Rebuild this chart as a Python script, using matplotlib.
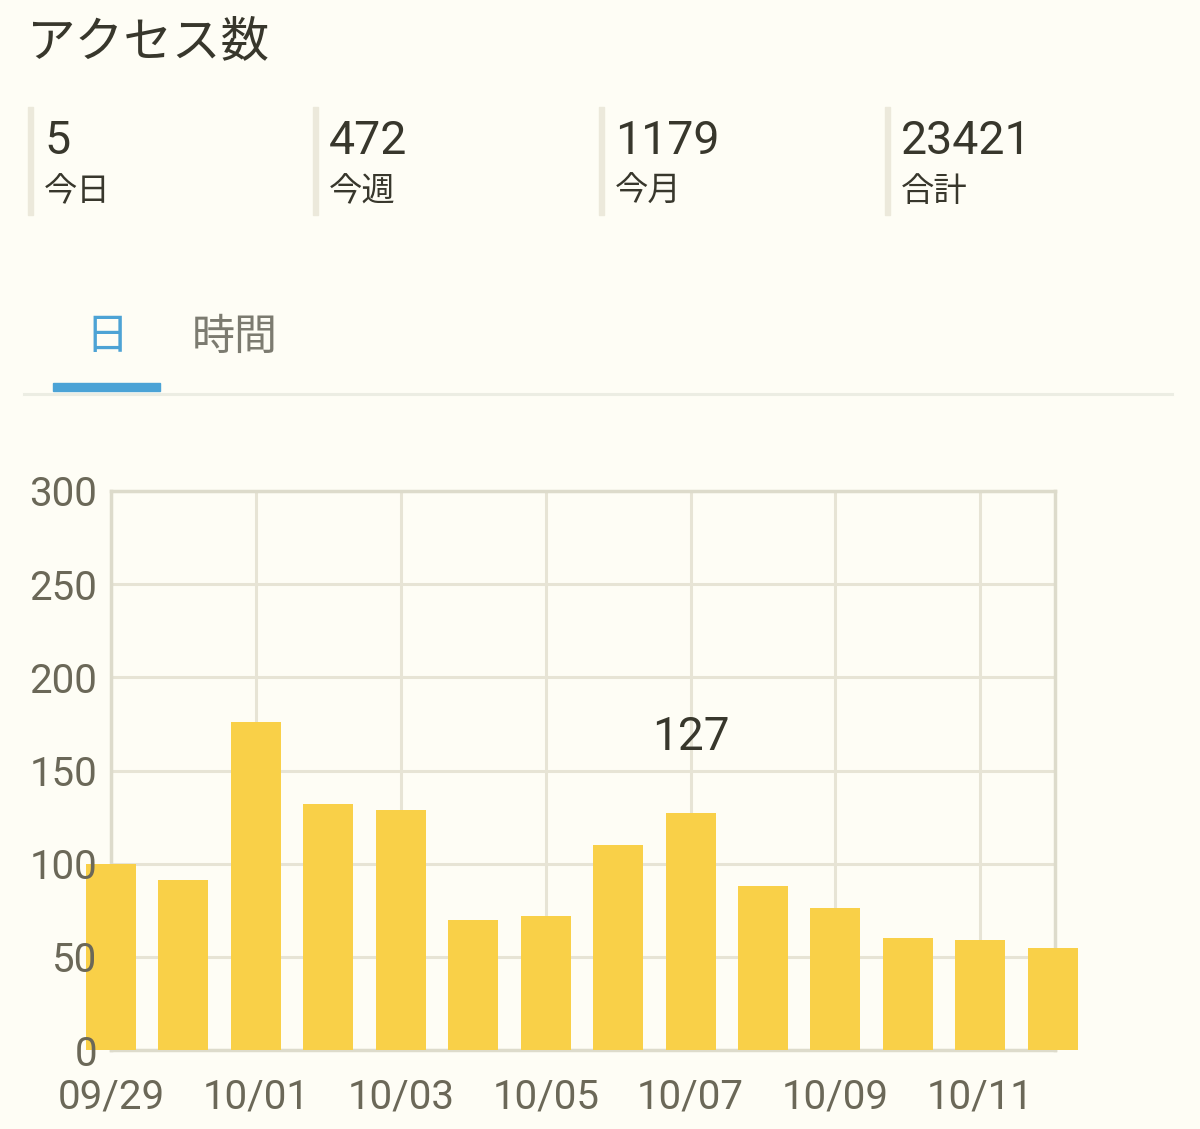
import matplotlib
matplotlib.use("Agg")
import matplotlib.pyplot as plt
from matplotlib.patches import Rectangle
from matplotlib.lines import Line2D

plt.rcParams['font.family'] = ['Roboto', 'Noto Sans CJK JP', 'DejaVu Sans']

# ---- data ----
dates = ["09/29", "09/30", "10/01", "10/02", "10/03", "10/04", "10/05",
         "10/06", "10/07", "10/08", "10/09", "10/10", "10/11", "10/12"]
values = [100, 91, 176, 132, 129, 70, 72, 110, 127, 88, 76, 60, 59, 55]
highlight_index = 8
stat_values = ["5", "472", "1179", "23421"]
stat_labels = ["今日", "今週", "今月", "合計"]
title = "アクセス数"
tabs = ["日", "時間"]
yticks = [0, 50, 100, 150, 200, 250, 300]

W, H = 1200, 1129
BG = "#FEFDF5"
BAR = "#F9D048"
GRID = "#E7E4D5"
FRAME = "#DDDBCB"
TICK = "#6B6858"
DARK = "#38372C"

fig = plt.figure(figsize=(W / 100, H / 100), dpi=100, facecolor=BG)

def fx(x):
    return x / W

def fy(y):
    return 1 - y / H

# title
fig.text(fx(27), fy(43), title, fontsize=35, color=DARK, va="center", ha="left")

# stats
xs = [28, 313, 599, 885]
for x, v, l in zip(xs, stat_values, stat_labels):
    fig.patches.append(Rectangle((fx(x), fy(215)), fx(5), (215 - 107) / H,
                                 transform=fig.transFigure, color="#ECE9DB", zorder=1))
    fig.text(fx(x + 16), fy(141), v, fontsize=33.5, color=DARK, va="center", ha="left")
    fig.text(fx(x + 16), fy(192), l, fontsize=24, color=DARK, va="center", ha="left")

# tabs
fig.text(fx(107), fy(338), tabs[0], fontsize=31, color="#4DA3D5", va="center", ha="center")
fig.text(fx(235), fy(338), tabs[1], fontsize=31, color="#7C7B70", va="center", ha="center")
fig.lines.append(Line2D([fx(24), fx(1172)], [fy(394), fy(394)], transform=fig.transFigure,
                        color="#ECEDE3", lw=2.2))
fig.patches.append(Rectangle((fx(53), fy(391)), fx(107), 8 / H,
                             transform=fig.transFigure, color="#4BA3D6", zorder=2))

# chart
ax = fig.add_axes([fx(111), fy(1050), fx(1055 - 111), (1050 - 491) / H])
ax.set_facecolor(BG)
x = list(range(len(values)))
ax.bar(x, values, width=0.69, color=BAR, zorder=2, clip_on=False)
ax.set_xlim(0.03, len(values) - 1 + 0.03)
ax.set_ylim(0, 300)
ax.set_yticks(yticks)
ax.set_yticklabels([str(t) for t in yticks])
ax.set_xticks(x[::2])
ax.set_xticklabels(dates[::2])
ax.set_axisbelow(False)  # tick labels drawn above the bars
# grid drawn below the bars
for t in yticks:
    ax.axhline(t, color=GRID, lw=2.2, zorder=0.3)
for t in x[::2]:
    ax.axvline(t, color=GRID, lw=2.2, zorder=0.3)
ax.tick_params(length=0, labelsize=29, labelcolor=TICK)
ax.tick_params(axis="y", pad=10)
ax.tick_params(axis="x", pad=20)
for s in ax.spines.values():
    s.set_color(FRAME)
    s.set_linewidth(2.5)
    s.set_zorder(1)

ax.text(highlight_index, values[highlight_index] + 29, str(values[highlight_index]),
        fontsize=33, color=DARK, ha="center", va="bottom")

fig.savefig("out.png", dpi=100, facecolor=BG)
